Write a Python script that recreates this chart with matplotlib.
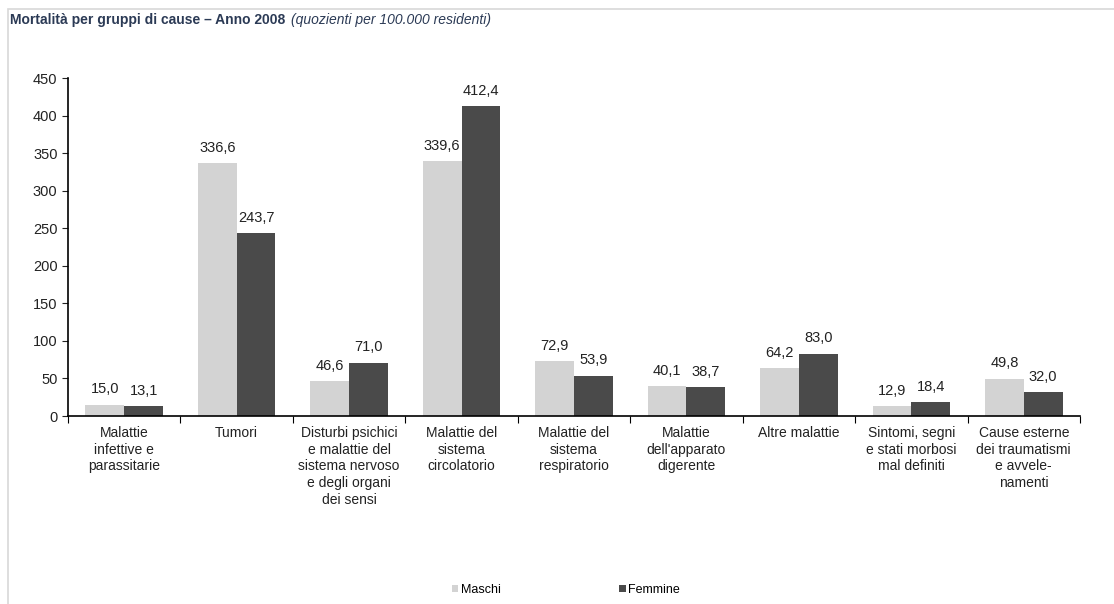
import numpy as np
import matplotlib
matplotlib.use("Agg")
import matplotlib.pyplot as plt
from matplotlib.patches import Rectangle

plt.rcParams["font.family"] = ["Liberation Sans", "DejaVu Sans"]

categories = [
    "Malattie\ninfettive e\nparassitarie",
    "Tumori",
    "Disturbi psichici\ne malattie del\nsistema nervoso\ne degli organi\ndei sensi",
    "Malattie del\nsistema\ncircolatorio",
    "Malattie del\nsistema\nrespiratorio",
    "Malattie\ndell'apparato\ndigerente",
    "Altre malattie",
    "Sintomi, segni\ne stati morbosi\nmal definiti",
    "Cause esterne\ndei traumatismi\ne avvele-\nnamenti",
]
maschi = [15.0, 336.6, 46.6, 339.6, 72.9, 40.1, 64.2, 12.9, 49.8]
femmine = [13.1, 243.7, 71.0, 412.4, 53.9, 38.7, 83.0, 18.4, 32.0]
series_names = ["Maschi", "Femmine"]
colors = ["#d3d3d3", "#4a4a4a"]

fig = plt.figure(figsize=(11.14, 6.04), dpi=100)
# light frame around the chart
fig.patches.append(Rectangle((8 / 1114, -0.01), 1.02, (604 - 9) / 604 + 0.01,
                             transform=fig.transFigure, fill=False,
                             edgecolor="#d8d8d8", linewidth=1.2))

t1 = fig.text(10 / 1114, 1 - 20 / 604, "Mortalità per gruppi di cause – Anno 2008 ",
              fontsize=10, fontweight="bold", color="#2b3a55", va="center")
fig.canvas.draw()
bb = t1.get_window_extent()
fig.text(bb.x1 / 1114 + 0.002, 1 - 20 / 604, "(quozienti per 100.000 residenti)",
         fontsize=10, style="italic", color="#2b3a55", va="center")

ax = fig.add_axes([68 / 1114, 1 - 416 / 604, (1080 - 68) / 1114, (416 - 78) / 604])
x = np.arange(len(categories))
w = 0.345
b1 = ax.bar(x - w / 2, maschi, w, color=colors[0], label=series_names[0])
b2 = ax.bar(x + w / 2, femmine, w, color=colors[1], label=series_names[1])

for bars, vals in ((b1, maschi), (b2, femmine)):
    for r, v in zip(bars, vals):
        ax.text(r.get_x() + r.get_width() / 2, v + 11, f"{v:.1f}".replace(".", ","),
                ha="center", va="bottom", fontsize=10.5, color="#222222")

ax.set_xlim(-0.5, len(categories) - 0.5)
ax.set_ylim(0, 450)
ax.set_yticks(np.arange(0, 451, 50))
ax.tick_params(axis="y", labelsize=10.5, direction="out", length=4, colors="#222222")
ax.set_xticks(np.arange(-0.5, len(categories) - 0.4, 1))
ax.set_xticklabels([])
ax.tick_params(axis="x", direction="out", length=5)
for xi, lab in zip(x, categories):
    ax.text(xi, -13, lab, ha="center", va="top", fontsize=10, color="#222222",
            linespacing=1.25)
for s in ("top", "right"):
    ax.spines[s].set_visible(False)
ax.spines["left"].set_linewidth(1.2)
ax.spines["bottom"].set_linewidth(1.2)

fig.legend(handles=[b1, b2], labels=series_names, loc="center",
           bbox_to_anchor=(0.508, 1 - 590 / 604), ncol=2, frameon=False,
           fontsize=9, handlelength=0.5, handleheight=0.5, handletextpad=0.2,
           columnspacing=9.5)

fig.savefig("out.png", dpi=100)
